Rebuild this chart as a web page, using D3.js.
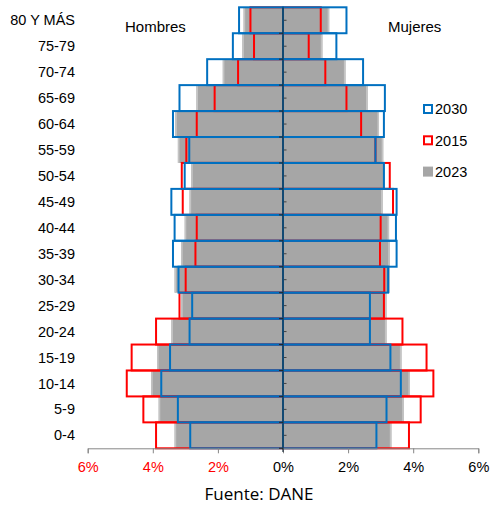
<!DOCTYPE html>
<html>
<head>
<meta charset="utf-8">
<script src="https://cdn.jsdelivr.net/npm/d3@7"></script>
<style>
  body { margin: 0; background: #fff; }
  text { font-family: "Liberation Sans", Arial, sans-serif; }
  text.source { font-family: "Open Sans", "Noto Sans", sans-serif; }
</style>
</head>
<body>
<div id="chart"></div>
<script>
// age groups, bottom to top
var ages = ["0-4","5-9","10-14","15-19","20-24","25-29","30-34","35-39","40-44",
            "45-49","50-54","55-59","60-64","65-69","70-74","75-79","80 Y MÁS"];

// Hombres (% of population)
var men2023 = [3.33,3.82,4.05,3.87,3.43,3.13,3.33,3.13,3.02,2.87,2.82,3.23,3.31,2.66,1.85,1.25,1.21];
var men2015 = [3.90,4.29,4.80,4.65,3.90,3.18,2.99,2.69,2.65,3.08,3.11,2.97,2.65,2.10,1.38,0.89,1.00];
var men2030 = [2.85,3.23,3.74,3.47,2.87,2.79,3.21,3.38,3.33,3.43,3.02,2.88,3.38,3.18,2.33,1.54,1.35];

// Mujeres
var women2023 = [3.33,3.71,3.90,3.64,3.18,3.18,3.28,3.28,3.26,3.06,3.12,3.08,2.95,2.60,1.92,1.21,1.42];
var women2015 = [3.87,4.23,4.62,4.41,3.67,3.10,3.11,2.98,3.00,3.38,3.28,2.84,2.40,1.95,1.30,0.79,1.16];
var women2030 = [2.87,3.18,3.62,3.30,2.67,2.67,3.23,3.49,3.47,3.49,3.10,2.84,3.10,3.13,2.46,1.64,1.95];

var xTicks = [-6,-4,-2,0,2,4,6];

var W = 490, H = 506;
var svg = d3.select("#chart").append("svg")
  .attr("width", W).attr("height", H);

var x = d3.scaleLinear().domain([-6, 6]).range([87.7, 478.3]);
var y = d3.scaleBand().domain(ages.slice().reverse()).range([7.3, 448.3]).padding(0);

// build rows for each series
function rows(men, women) {
  var out = [];
  ages.forEach(function(a, i) {
    out.push({age: a, x0: x(-men[i]), x1: x(0)});
    out.push({age: a, x0: x(0), x1: x(women[i])});
  });
  return out;
}

// 2023 grey bars
svg.append("g").selectAll("rect")
  .data(rows(men2023, women2023))
  .enter().append("rect")
    .attr("x", function(d){ return d.x0; })
    .attr("y", function(d){ return y(d.age); })
    .attr("width", function(d){ return d.x1 - d.x0; })
    .attr("height", y.bandwidth())
    .attr("fill", "#a6a6a6");

// light edge at the outer end of grey bars
svg.append("g").selectAll("line")
  .data(rows(men2023, women2023))
  .enter().append("line")
    .attr("x1", function(d, i){ return i % 2 ? d.x1 - 0.8 : d.x0 + 0.8; })
    .attr("x2", function(d, i){ return i % 2 ? d.x1 - 0.8 : d.x0 + 0.8; })
    .attr("y1", function(d){ return y(d.age); })
    .attr("y2", function(d){ return y(d.age) + y.bandwidth(); })
    .attr("stroke", "#c4c4c4")
    .attr("stroke-width", 1.6);

// 2015 red outlines
svg.append("g").selectAll("rect")
  .data(rows(men2015, women2015))
  .enter().append("rect")
    .attr("x", function(d){ return d.x0; })
    .attr("y", function(d){ return y(d.age); })
    .attr("width", function(d){ return d.x1 - d.x0; })
    .attr("height", y.bandwidth())
    .attr("fill", "none")
    .attr("stroke", "#ff0000")
    .attr("stroke-width", 2);

// 2030 blue outlines
svg.append("g").selectAll("rect")
  .data(rows(men2030, women2030))
  .enter().append("rect")
    .attr("x", function(d){ return d.x0; })
    .attr("y", function(d){ return y(d.age); })
    .attr("width", function(d){ return d.x1 - d.x0; })
    .attr("height", y.bandwidth())
    .attr("fill", "none")
    .attr("stroke", "#0070c0")
    .attr("stroke-width", 2);

// bottom axis
var xAxis = svg.append("g")
  .attr("transform", "translate(0,448.3)")
  .call(d3.axisBottom(x).tickValues(xTicks).tickSize(5).tickPadding(8)
        .tickFormat(function(d){ return Math.abs(d) + "%"; }));
xAxis.select(".domain").attr("stroke", "#868686");
xAxis.selectAll(".tick line").attr("stroke", "#868686");
xAxis.selectAll(".tick text")
  .attr("font-size", 14.5)
  .attr("fill", function(d){ return d < 0 ? "#ff0000" : "#000"; });

// center vertical axis with ticks
var cx = x(0);
svg.append("line")
  .attr("x1", cx).attr("x2", cx)
  .attr("y1", 7.3).attr("y2", 452)
  .attr("stroke", "#1f2f3f").attr("stroke-width", 1.2);
svg.append("g").selectAll("line")
  .data(ages)
  .enter().append("line")
    .attr("x1", cx + 1).attr("x2", cx + 3.5)
    .attr("y1", function(d){ return y(d) + y.bandwidth() / 2; })
    .attr("y2", function(d){ return y(d) + y.bandwidth() / 2; })
    .attr("stroke", "#404040");
svg.append("g").selectAll("line")
  .data(ages)
  .enter().append("line")
    .attr("x1", cx - 4).attr("x2", cx)
    .attr("y1", function(d){ return y(d) + y.bandwidth(); })
    .attr("y2", function(d){ return y(d) + y.bandwidth(); })
    .attr("stroke", "#262626");

// age labels
svg.append("g").selectAll("text")
  .data(ages)
  .enter().append("text")
    .attr("x", 75)
    .attr("y", function(d){ return y(d) + y.bandwidth() / 2; })
    .attr("dy", "0.35em")
    .attr("text-anchor", "end")
    .attr("font-size", 14.5)
    .attr("fill", "#000")
    .text(function(d){ return d; });

svg.append("text").attr("x", 125).attr("y", 32)
  .attr("font-size", 15).text("Hombres");
svg.append("text").attr("x", 388).attr("y", 32)
  .attr("font-size", 15).text("Mujeres");

// legend
var legend = [
  {name: "2030", stroke: "#0070c0", fill: "#fff"},
  {name: "2015", stroke: "#ff0000", fill: "#fff"},
  {name: "2023", stroke: "#a6a6a6", fill: "#a6a6a6"}
];
var lg = svg.append("g").selectAll("g")
  .data(legend)
  .enter().append("g")
    .attr("transform", function(d, i){ return "translate(423," + (109 + i * 31.3) + ")"; });
lg.append("rect")
  .attr("x", 1).attr("y", -4).attr("width", 8).attr("height", 8)
  .attr("fill", function(d){ return d.fill; })
  .attr("stroke", function(d){ return d.stroke; })
  .attr("stroke-width", 2);
lg.append("text")
  .attr("x", 12).attr("dy", "0.36em")
  .attr("font-size", 14.5)
  .text(function(d){ return d.name; });

// source
svg.append("text")
  .attr("class", "source")
  .attr("x", 259).attr("y", 500)
  .attr("text-anchor", "middle")
  .attr("font-size", 17)
  .text("Fuente: DANE");
</script>
</body>
</html>
